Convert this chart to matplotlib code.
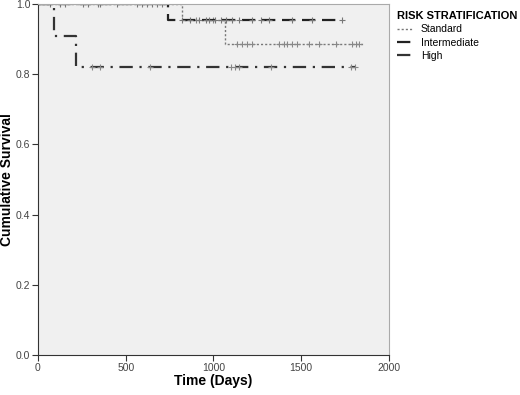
import matplotlib.pyplot as plt
import numpy as np

plt.rcParams['font.family'] = ['Liberation Sans', 'DejaVu Sans']

# Kaplan-Meier steps (time in days, survival)
std_t = [0, 818, 1068, 1858]
std_s = [1.0, 0.955, 0.885, 0.885]
std_cens_t = [900, 1000, 1136, 1165, 1193, 1222, 1375, 1403, 1420, 1449, 1477, 1545, 1602, 1699, 1790, 1813, 1830]
std_cens_s = [0.955, 0.955] + [0.885] * 15

int_t = [0, 739, 1733]
int_s = [1.0, 0.955, 0.955]
int_cens_t = [68, 125, 153, 256, 284, 341, 352, 449, 563, 591, 619, 648, 676, 705,
              818, 864, 920, 960, 977, 1006, 1045, 1074, 1108, 1148, 1222, 1273, 1318, 1449, 1563, 1733]
int_cens_s = [1.0] * 14 + [0.955] * 16

high_t = [0, 91, 216, 1810]
high_s = [1.0, 0.91, 0.82, 0.82]
high_cens_t = [307, 352, 636, 1102, 1125, 1148, 1330, 1784, 1807]
high_cens_s = [0.82] * 9

fig = plt.figure(figsize=(5.2, 3.95), dpi=100)
ax = fig.add_axes([0.073, 0.101, 0.675, 0.889])
ax.set_facecolor('#f0f0f0')

l1, = ax.step(std_t, std_s, where='post', color='#777777', lw=1.0, ls=(0, (1.5, 1.5)), label='Standard')
ax.plot(std_cens_t, std_cens_s, '+', color='#888888', ms=5, mew=0.8)
l2, = ax.step(int_t, int_s, where='post', color='#222222', lw=1.6, ls=(0, (6, 3)), label='Intermediate')
ax.plot(int_cens_t, int_cens_s, '+', color='#777777', ms=5, mew=0.8)
l3, = ax.step(high_t, high_s, where='post', color='#333333', lw=1.6, ls=(0, (6, 3, 1, 3)), label='High')
ax.plot(high_cens_t, high_cens_s, '+', color='#888888', ms=5, mew=0.8)

ax.set_xlim(0, 2000)
ax.set_ylim(0, 1.0)
ax.set_xticks([0, 500, 1000, 1500, 2000])
ax.set_yticks([0.0, 0.2, 0.4, 0.6, 0.8, 1.0])
ax.set_yticklabels(['0.0', '0.2', '0.4', '0.6', '0.8', '1.0'])
ax.tick_params(labelsize=7.5, labelcolor='#444444', length=4, color='#333333', pad=1.5)
for s in ax.spines.values():
    s.set_color('#333333')
ax.spines['top'].set_color('#aaaaaa')
ax.spines['right'].set_color('#aaaaaa')
ax.set_xlabel('Time (Days)', fontsize=10, fontweight='bold')
ax.set_ylabel('Cumulative Survival', fontsize=10, fontweight='bold')
ax.yaxis.set_label_coords(-0.068, 0.5)
ax.xaxis.set_label_coords(0.5, -0.055)

leg = fig.legend(handles=[l1, l2, l3], title='RISK STRATIFICATION', loc='upper left',
                 bbox_to_anchor=(0.745, 0.995), frameon=False, fontsize=7.5,
                 handlelength=1.5, labelspacing=0.3, title_fontproperties={'weight': 'bold', 'size': 8})
leg._legend_box.align = 'left'

fig.savefig('out.png', dpi=100)
